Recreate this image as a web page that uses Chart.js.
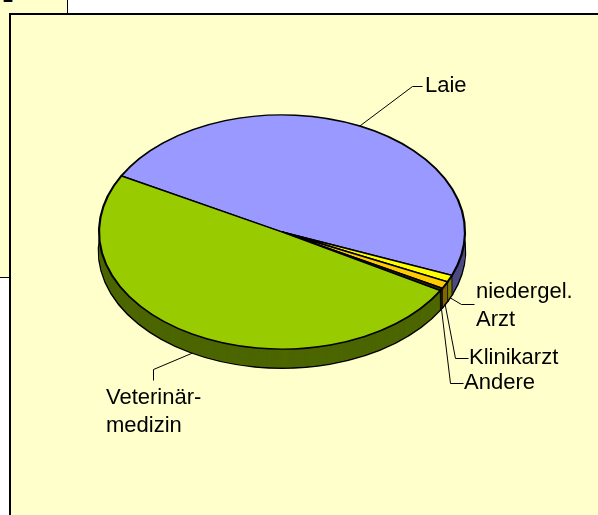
<!DOCTYPE html>
<html>
<head>
<meta charset="utf-8">
<script src="https://cdn.jsdelivr.net/npm/chart.js@4"></script>
<style>
  body { margin: 0; background: #fff; }
  #wrap { position: relative; width: 598px; height: 515px; overflow: hidden; }
  #back { position: absolute; left: 0; top: 0; width: 67px; height: 277px; background: #FFFFCC;
          border-right: 1px solid #000; border-bottom: 1px solid #000; }
  #back span { position: absolute; left: 3px; top: -14px; font: bold 18px "Liberation Sans", Arial, sans-serif; }
  #main { position: absolute; left: 9px; top: 13px; width: 589px; height: 502px; box-sizing: border-box;
          background: #FFFFCC; border-left: 2px solid #000; border-top: 2px solid #000; }
  canvas { position: absolute; left: 0; top: 0; }
</style>
</head>
<body>
<div id="wrap">
  <div id="back"><span>2</span></div>
  <div id="main"></div>
  <canvas id="c" width="598" height="515"></canvas>
</div>
<script>
// data (percent)
const categories = ['Laie', 'niedergel. Arzt', 'Klinikarzt', 'Andere', 'Veterinärmedizin'];
const labelLines = [['Laie'], ['niedergel.', 'Arzt'], ['Klinikarzt'], ['Andere'], ['Veterinär-', 'medizin']];
const shares = [48.1, 0.95, 1.0, 0.35, 49.6];

const topColors = ['#9999FF', '#FFFF00', '#FFCC00', '#333300', '#99CC00'];
const sideColors = ['#4C4C80', '#808000', '#806600', '#1A1A00', '#4C6600'];

// 3d look
const tilt = 0.64;     // vertical squash of the pie
const centerY = 232;   // where the squashed pie sits
const depth = 19;      // wall height in px

// label layout: text left x, first line y, elbow point, end of leader
const labelLayout = [
  { x: 425, y: 86,  elbow: [412, 86],  end: [422, 86] },
  { x: 476, y: 292, elbow: [461, 304], end: [474, 304] },
  { x: 469, y: 358, elbow: [455, 358], end: [468, 358] },
  { x: 464, y: 383, elbow: [450, 383], end: [463, 383] },
  { x: 106, y: 398, elbow: [153, 369], end: [153, 380] }
];

const pie3d = {
  id: 'pie3d',
  beforeDatasetsDraw(chart) {
    const ctx = chart.ctx;
    const arcs = chart.getDatasetMeta(0).data;
    const cy0 = arcs[0].y;
    ctx.save();
    ctx.translate(0, centerY);
    ctx.scale(1, tilt);
    ctx.translate(0, -cy0);
    // side wall, bottom layer first
    for (let d = depth; d >= 0.5; d -= 0.5) {
      const off = d / tilt;
      arcs.forEach((a, i) => {
        ctx.beginPath();
        ctx.moveTo(a.x, a.y + off);
        ctx.arc(a.x, a.y + off, a.outerRadius, a.startAngle, a.endAngle);
        ctx.closePath();
        ctx.fillStyle = sideColors[i];
        ctx.fill();
        if (d === depth) {
          ctx.lineWidth = 2.6;
          ctx.strokeStyle = '#000';
          ctx.stroke();
        }
      });
    }
    // vertical edges between slices on the front wall
    ctx.strokeStyle = '#000';
    ctx.lineWidth = 1;
    arcs.forEach(a => {
      const ang = a.startAngle;
      if (Math.sin(ang) > 0) {
        const px = a.x + a.outerRadius * Math.cos(ang);
        const py = a.y + a.outerRadius * Math.sin(ang);
        ctx.beginPath();
        ctx.moveTo(px, py);
        ctx.lineTo(px, py + depth / tilt);
        ctx.stroke();
      }
    });
  },
  afterDatasetsDraw(chart) {
    chart.ctx.restore();
  },
  afterDraw(chart) {
    const ctx = chart.ctx;
    const arcs = chart.getDatasetMeta(0).data;
    ctx.save();
    ctx.font = '22px "Liberation Sans", Arial, sans-serif';
    ctx.fillStyle = '#000';
    ctx.strokeStyle = '#000';
    ctx.lineWidth = 1;
    ctx.textBaseline = 'middle';
    arcs.forEach((a, i) => {
      const mid = (a.startAngle + a.endAngle) / 2;
      const ax = a.x + a.outerRadius * Math.cos(mid);
      let ay = centerY + tilt * a.outerRadius * Math.sin(mid);
      if (Math.sin(mid) > 0) ay += depth;
      const L = labelLayout[i];
      ctx.beginPath();
      ctx.moveTo(ax, ay);
      ctx.lineTo(L.elbow[0] + 0.5, L.elbow[1] + 0.5);
      ctx.lineTo(L.end[0] + 0.5, L.end[1] + 0.5);
      ctx.stroke();
      labelLines[i].forEach((t, j) => ctx.fillText(t, L.x, L.y + j * 28));
    });
    ctx.restore();
  }
};

new Chart(document.getElementById('c').getContext('2d'), {
  type: 'pie',
  data: {
    labels: categories,
    datasets: [{
      data: shares,
      backgroundColor: topColors,
      borderColor: '#000',
      borderWidth: 2.2,
      radius: 183
    }]
  },
  options: {
    responsive: false,
    devicePixelRatio: 1,
    animation: false,
    rotation: -61.4,
    layout: { padding: { left: 99, right: 133, top: 70, bottom: 79 } },
    plugins: {
      legend: { display: false },
      tooltip: { enabled: false }
    }
  },
  plugins: [pie3d]
});
</script>
</body>
</html>
